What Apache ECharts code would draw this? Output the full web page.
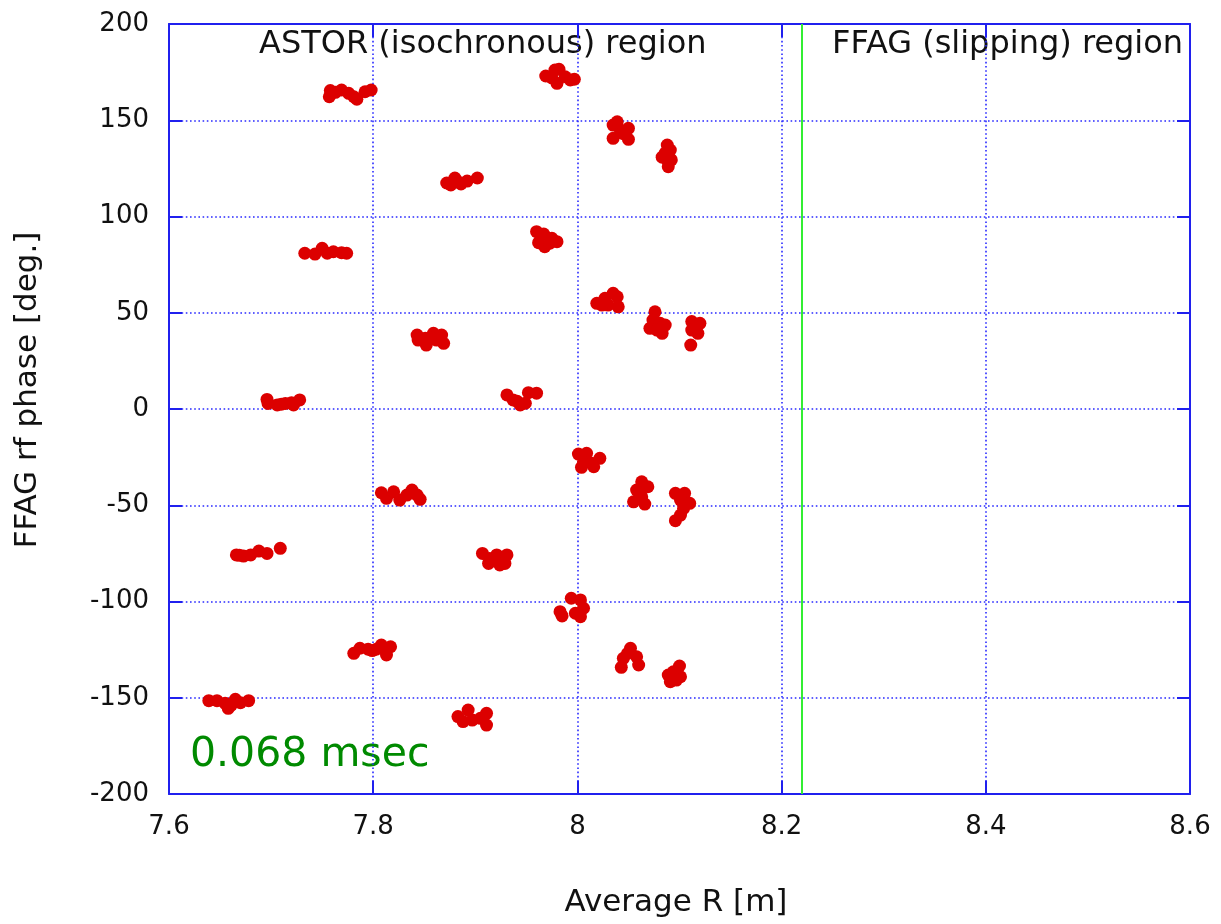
<!DOCTYPE html>
<html>
<head>
<meta charset="utf-8">
<title>FFAG rf phase vs Average R</title>
<script src="https://cdn.jsdelivr.net/npm/echarts@6/dist/echarts.min.js"></script>
<style>
  html, body { margin: 0; padding: 0; background: #ffffff; }
  #chart { width: 1221px; height: 924px; }
</style>
</head>
<body>
<div id="chart"></div>
<script>
// Macro-particle snapshot at 0.068 msec: average radius [m] and FFAG rf phase [deg.]
// One line per bunch.
const averageR = [
  7.757, 7.758, 7.769, 7.776, 7.781, 7.784, 7.792, 7.798, 7.763,
  7.969, 7.978, 7.982, 7.980, 7.988, 7.993, 7.997, 7.975,
  8.035, 8.035, 8.050, 8.050, 8.042, 8.039, 8.045,
  8.088, 8.091, 8.083, 8.088, 8.092, 8.089, 8.086,
  7.872, 7.880, 7.886, 7.892, 7.902, 7.876, 7.883,
  7.733, 7.743, 7.750, 7.755, 7.761, 7.769, 7.774,
  7.960, 7.967, 7.962, 7.968, 7.975, 7.980, 7.973,
  7.843, 7.851, 7.859, 7.867, 7.852, 7.869, 7.844, 7.862, 7.856,
  8.019, 8.027, 8.035, 8.039, 8.030, 8.040, 8.024,
  8.076, 8.074, 8.071, 8.081, 8.086, 8.083, 8.078,
  8.112, 8.120, 8.112, 8.118, 8.111, 8.116,
  7.696, 7.697, 7.706, 7.714, 7.722, 7.728, 7.720, 7.710,
  7.931, 7.937, 7.944, 7.949, 7.952, 7.960, 7.941,
  8.001, 8.009, 8.006, 8.004, 8.014, 8.022, 8.016,
  7.808, 7.813, 7.820, 7.826, 7.833, 7.838, 7.846, 7.843,
  8.063, 8.058, 8.069, 8.063, 8.055, 8.066, 8.061,
  8.096, 8.105, 8.101, 8.110, 8.104, 8.101, 8.096,
  7.666, 7.673, 7.680, 7.688, 7.696, 7.709, 7.669,
  7.907, 7.914, 7.921, 7.931, 7.913, 7.924, 7.929,
  7.983, 7.994, 8.003, 8.006, 7.998, 8.003, 7.985,
  7.781, 7.787, 7.795, 7.803, 7.808, 7.817, 7.813, 7.799,
  8.052, 8.045, 8.058, 8.060, 8.043, 8.049,
  8.100, 8.094, 8.089, 8.101, 8.091, 8.097,
  7.639, 7.647, 7.655, 7.658, 7.665, 7.670, 7.678, 7.661,
  7.883, 7.893, 7.897, 7.905, 7.911, 7.911, 7.888
];

const rfPhase = [
  162.2, 165.4, 165.7, 164.0, 162.2, 160.9, 164.8, 165.7, 164.5,
  173.0, 176.1, 176.5, 169.2, 172.6, 170.9, 171.3, 172.0,
  147.5, 140.6, 145.8, 140.1, 144.9, 149.2, 143.0,
  137.1, 134.5, 130.8, 129.4, 129.4, 125.9, 133.0,
  117.4, 120.0, 116.9, 118.4, 120.0, 116.4, 118.0,
  80.9, 80.5, 83.5, 80.9, 81.7, 81.2, 80.9,
  92.1, 90.9, 86.4, 84.3, 88.7, 86.9, 86.1,
  38.4, 36.7, 39.3, 38.4, 33.2, 34.1, 35.8, 35.8, 37.0,
  54.9, 57.5, 60.1, 58.3, 54.0, 53.1, 54.0,
  50.5, 46.2, 41.9, 44.5, 43.6, 39.3, 41.0,
  45.4, 44.5, 41.0, 39.3, 33.2, 42.5,
  5.0, 2.9, 2.1, 2.9, 2.1, 4.7, 3.3, 2.5,
  7.3, 4.7, 2.1, 3.0, 8.5, 8.2, 4.0,
  -23.4, -23.0, -27.4, -30.3, -28.2, -25.6, -30.0,
  -43.5, -46.4, -43.0, -47.3, -44.7, -42.1, -46.9, -44.7,
  -37.8, -42.1, -40.4, -45.6, -48.2, -49.4, -43.8,
  -43.8, -43.8, -47.3, -49.0, -51.6, -55.1, -58.0,
  -75.8, -76.4, -75.8, -73.8, -75.0, -72.4, -76.0,
  -75.0, -77.6, -75.8, -75.8, -80.2, -81.0, -80.2,
  -105.3, -98.3, -99.2, -103.5, -106.1, -107.9, -107.5,
  -126.9, -124.3, -124.8, -124.8, -122.6, -123.5, -127.8, -125.5,
  -124.3, -129.5, -128.7, -133.0, -134.2, -127.0,
  -133.5, -136.5, -138.2, -139.1, -141.7, -140.8,
  -151.5, -151.5, -152.9, -155.5, -150.8, -152.6, -151.5, -153.8,
  -159.8, -156.4, -161.6, -160.7, -158.1, -164.2, -162.4
];

// Boundary between the isochronous and slipping regions [m]
const regionBoundaryR = 8.222;

const xTicks = { min: 7.6, max: 8.6, step: 0.2 };
const yTicks = { min: -200, max: 200, step: 50 };

const regionLabels = ['ASTOR (isochronous) region', 'FFAG (slipping) region'];
const timeLabel = '0.068 msec';
const xTitle = 'Average R [m]';
const yTitle = 'FFAG rf phase [deg.]';

const points = averageR.map((r, i) => [r, rfPhase[i]]);

const FONT = '"DejaVu Sans", "Liberation Sans", sans-serif';
const BLUE = '#2020ee';
const GRID_BLUE = '#2a2aff';

const chart = echarts.init(document.getElementById('chart'), null, { renderer: 'canvas' });

const mainX = {
  type: 'value', position: 'bottom',
  min: xTicks.min, max: xTicks.max, interval: xTicks.step,
  axisLine: { show: true, onZero: false, lineStyle: { color: BLUE, width: 2 } },
  axisTick: { show: true, inside: true, length: 13, lineStyle: { color: BLUE, width: 2 } },
  axisLabel: { color: '#111', fontFamily: FONT, fontSize: 26, margin: 20,
    formatter: v => String(+v.toFixed(2)) },
  splitLine: { show: true, lineStyle: { color: GRID_BLUE, width: 1.6, type: [1.6, 2.6] } }
};
const mainY = {
  type: 'value', position: 'left',
  min: yTicks.min, max: yTicks.max, interval: yTicks.step,
  axisLine: { show: true, onZero: false, lineStyle: { color: BLUE, width: 2 } },
  axisTick: { show: true, inside: true, length: 13, lineStyle: { color: BLUE, width: 2 } },
  axisLabel: { color: '#111', fontFamily: FONT, fontSize: 26, margin: 20 },
  splitLine: { show: true, lineStyle: { color: GRID_BLUE, width: 1.6, type: [1.6, 2.6] } }
};
// mirrored axes carry the ticks on the top and right borders
const mirrorX = Object.assign({}, mainX, {
  position: 'top', axisLabel: { show: false }, splitLine: { show: false }
});
const mirrorY = Object.assign({}, mainY, {
  position: 'right', axisLabel: { show: false }, splitLine: { show: false }
});

chart.setOption({
  animation: false,
  backgroundColor: '#ffffff',
  grid: { left: 169, right: 31, top: 24, bottom: 130, containLabel: false },
  xAxis: [mainX, mirrorX],
  yAxis: [mainY, mirrorY],
  series: [
    {
      type: 'scatter',
      xAxisIndex: 0, yAxisIndex: 0,
      data: points,
      symbol: 'circle',
      symbolSize: 13,
      itemStyle: { color: '#dc0000', opacity: 1 },
      z: 5,
      markLine: {
        silent: true,
        symbol: ['none', 'none'],
        label: { show: false },
        lineStyle: { color: '#33ee33', width: 2, type: 'solid' },
        data: [{ xAxis: regionBoundaryR }]
      }
    }
  ],
  graphic: [
    { type: 'text', left: 259, top: 29,
      style: { text: regionLabels[0], fill: '#111', font: '32px ' + FONT } },
    { type: 'text', left: 832, top: 29,
      style: { text: regionLabels[1], fill: '#111', font: '32px ' + FONT } },
    { type: 'text', left: 190, top: 735,
      style: { text: timeLabel, fill: '#008a00', font: '41px ' + FONT } },
    { type: 'text', x: 676, y: 903,
      style: { text: xTitle, fill: '#111', font: '31px ' + FONT,
        textAlign: 'center', textVerticalAlign: 'middle' } },
    { type: 'text', x: 28, y: 390, rotation: Math.PI / 2,
      style: { text: yTitle, fill: '#111', font: '31px ' + FONT,
        textAlign: 'center', textVerticalAlign: 'middle' } }
  ]
});
</script>
</body>
</html>
